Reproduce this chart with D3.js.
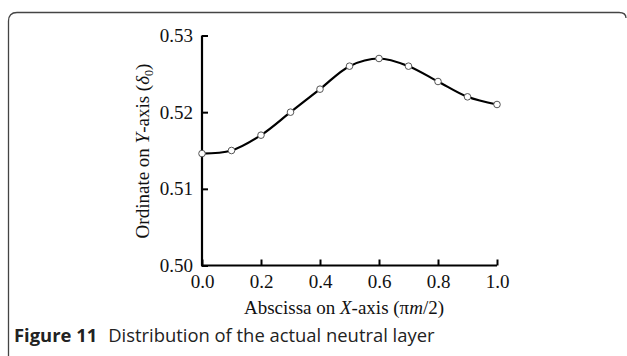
<!DOCTYPE html>
<html><head><meta charset="utf-8">
<script src="https://cdn.jsdelivr.net/npm/d3@7"></script>
<style>body{margin:0;background:#fff}svg{display:block}</style>
</head><body>
<svg id="c" width="627" height="356"></svg>
<script>
const xValues = [0.0, 0.1, 0.2, 0.3, 0.4, 0.5, 0.6, 0.7, 0.8, 0.9, 1.0];
const yValues = [0.5146, 0.5150, 0.5170, 0.5200, 0.5230, 0.5260, 0.5270, 0.5260, 0.5240, 0.5220, 0.5210];
const xTicks = [0.0, 0.2, 0.4, 0.6, 0.8, 1.0];
const yTicks = [0.50, 0.51, 0.52, 0.53];

const svg = d3.select("#c");
// frame
svg.append("path")
  .attr("d", "M8.5,356 L8.5,21 Q8.5,12.5 17,12.5 L619,12.5 Q626,12.5 626,18")
  .attr("fill", "none").attr("stroke", "#444").attr("stroke-width", 1.3);

const x = d3.scaleLinear().domain([0, 1]).range([202, 497]);
const y = d3.scaleLinear().domain([0.50, 0.53]).range([265.5, 35.5]);
const serif = "'Liberation Serif','Times New Roman',serif";

const g = svg.append("g");
const xAxis = d3.axisBottom(x).tickValues(xTicks).tickFormat(d3.format(".1f")).tickSizeInner(-6).tickSizeOuter(0).tickPadding(9);
const yAxis = d3.axisLeft(y).tickValues(yTicks).tickFormat(d3.format(".2f")).tickSizeInner(-6).tickSizeOuter(0).tickPadding(9);

const gx = g.append("g").attr("transform", "translate(0,265.5)").call(xAxis);
const gy = g.append("g").attr("transform", "translate(202,0)").call(yAxis);
[gx, gy].forEach(a => {
  a.select(".domain").attr("stroke", "#000").attr("stroke-width", 2.2);
  a.selectAll(".tick line").attr("stroke", "#000").attr("stroke-width", 2);
  a.selectAll(".tick text").attr("font-family", serif).attr("font-size", 19).attr("fill", "#111");
});
gx.select(".domain").attr("d", "M201,0H497");
gy.select(".domain").attr("d", "M0,265.5V35.5");

const line = d3.line().x((d, i) => x(xValues[i])).y(d => y(d)).curve(d3.curveCatmullRom.alpha(0.5));
g.append("path").datum(yValues).attr("d", line)
  .attr("fill", "none").attr("stroke", "#000").attr("stroke-width", 2.2);

g.selectAll("circle.pt").data(yValues).enter().append("circle")
  .attr("class", "pt")
  .attr("cx", (d, i) => x(xValues[i])).attr("cy", d => y(d)).attr("r", 3.3)
  .attr("fill", "#fff").attr("stroke", "#555").attr("stroke-width", 1);

// x title
const xt = svg.append("text").attr("x", 344).attr("y", 314).attr("text-anchor", "middle")
  .attr("font-family", serif).attr("font-size", 19).attr("fill", "#111");
xt.append("tspan").text("Abscissa on ");
xt.append("tspan").attr("font-style", "italic").text("X");
xt.append("tspan").text("-axis (\u03C0");
xt.append("tspan").attr("font-style", "italic").text("m");
xt.append("tspan").text("/2)");

// y title
const yt = svg.append("text").attr("transform", "translate(149,151) rotate(-90)").attr("text-anchor", "middle")
  .attr("font-family", serif).attr("font-size", 19).attr("fill", "#111");
yt.append("tspan").text("Ordinate on ");
yt.append("tspan").attr("font-style", "italic").text("Y");
yt.append("tspan").text("-axis (");
yt.append("tspan").attr("font-style", "italic").text("\u03B4");
yt.append("tspan").attr("font-size", 12).attr("dy", 4).text("0");
yt.append("tspan").attr("dy", -4).text(")");

// caption
const cap = svg.append("text").attr("x", 14).attr("y", 342)
  .attr("font-family", "'Open Sans','Noto Sans',sans-serif").attr("font-size", 18.4).attr("fill", "#222");
cap.append("tspan").attr("font-weight", "bold").text("Figure 11");
cap.append("tspan").attr("dx", 11).text("Distribution of the actual neutral layer");
</script>
</body></html>
